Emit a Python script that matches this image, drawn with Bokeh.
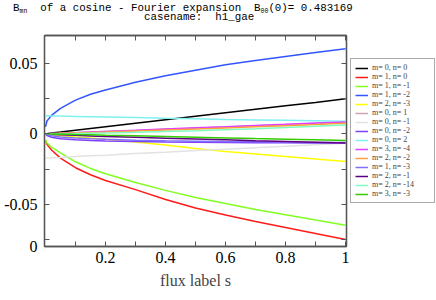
from bokeh.plotting import figure
from bokeh.layouts import row, column
from bokeh.models import (Legend, LegendItem, FixedTicker, LinearAxis, Div,
                          CustomJSTickFormatter, Range1d)
from bokeh.embed import file_html
from bokeh.resources import INLINE

# ---------------- data ----------------
s = [0, 0.005, 0.02, 0.05, 0.1, 0.15, 0.2, 0.3, 0.4, 0.5, 0.6, 0.7, 0.8, 0.9, 1.0]

labels = ["m= 0, n= 0", "m= 1, n= 0", "m= 1, n= -1", "m= 1, n= -2", "m= 2, n= -3",
          "m= 0, n= 1", "m= 0, n= -1", "m= 0, n= -2", "m= 0, n= 2", "m= 3, n= -4",
          "m= 2, n= -2", "m= 1, n= -3", "m= 2, n= -1", "m= 2, n= -14", "m= 3, n= -3"]

b_m0_n0 = [0, 0.0001, 0.0005, 0.0012, 0.0025, 0.0037, 0.0049, 0.0074, 0.0099, 0.0124, 0.0148, 0.0173, 0.0198, 0.0222, 0.0247]
b_m1_n0 = [-0.0045, -0.0075, -0.0115, -0.0172, -0.0240, -0.0290, -0.0330, -0.0395, -0.0465, -0.0525, -0.0575, -0.0620, -0.0663, -0.0705, -0.0747]
b_m1_nm1 = [-0.0045, -0.0065, -0.0095, -0.0135, -0.0198, -0.0245, -0.0283, -0.0345, -0.0400, -0.0450, -0.0493, -0.0535, -0.0572, -0.0610, -0.0646]
b_m1_nm2 = [0.0050, 0.0090, 0.0130, 0.0180, 0.0238, 0.0280, 0.0310, 0.0365, 0.0410, 0.0450, 0.0488, 0.0518, 0.0547, 0.0575, 0.0601]
b_m2_nm3 = [0, -0.0001, -0.0005, -0.0013, -0.0022, -0.0030, -0.0038, -0.0058, -0.0080, -0.0104, -0.0126, -0.0143, -0.0161, -0.0179, -0.0196]
b_m0_n1 = [0, 0, 0.0002, 0.0004, 0.0008, 0.0012, 0.0016, 0.0024, 0.0032, 0.0040, 0.0048, 0.0056, 0.0064, 0.0072, 0.0080]
b_m0_nm1 = [-0.0172, -0.0171, -0.0170, -0.0167, -0.0161, -0.0156, -0.0151, -0.0140, -0.0130, -0.0119, -0.0109, -0.0098, -0.0088, -0.0077, -0.0067]
b_m0_nm2 = [0, -0.0012, -0.0024, -0.0035, -0.0043, -0.0048, -0.0051, -0.0055, -0.0058, -0.0060, -0.0062, -0.0063, -0.0064, -0.0065, -0.0066]
b_m0_n2 = [0.0127, 0.0127, 0.0126, 0.0125, 0.0123, 0.0121, 0.0119, 0.0115, 0.0110, 0.0106, 0.0101, 0.0098, 0.0095, 0.0092, 0.0089]
b_m3_nm4 = [0, 0, 0.0002, 0.0004, 0.0008, 0.0013, 0.0017, 0.0025, 0.0034, 0.0042, 0.0050, 0.0059, 0.0067, 0.0076, 0.0084]
b_m2_nm2 = [0, 0, 0.0001, 0.0003, 0.0006, 0.0009, 0.0012, 0.0019, 0.0026, 0.0033, 0.0041, 0.0049, 0.0057, 0.0065, 0.0074]
b_m1_nm3 = [0, -0.0006, -0.0014, -0.0022, -0.0030, -0.0035, -0.0039, -0.0045, -0.0049, -0.0052, -0.0055, -0.0057, -0.0059, -0.0061, -0.0062]
b_m2_nm1 = [0, -0.0001, -0.0003, -0.0006, -0.0011, -0.0015, -0.0019, -0.0025, -0.0031, -0.0037, -0.0043, -0.0049, -0.0054, -0.0060, -0.0066]
b_m2_nm14 = [0, 0, 0, 0.0001, 0.0002, 0.0004, 0.0006, 0.0010, 0.0016, 0.0022, 0.0029, 0.0036, 0.0044, 0.0053, 0.0062]
b_m3_nm3 = [0, 0, -0.0001, -0.0002, -0.0005, -0.0007, -0.0010, -0.0014, -0.0019, -0.0024, -0.0029, -0.0034, -0.0038, -0.0043, -0.0048]

series = [b_m0_n0, b_m1_n0, b_m1_nm1, b_m1_nm2, b_m2_nm3, b_m0_n1, b_m0_nm1, b_m0_nm2,
          b_m0_n2, b_m3_nm4, b_m2_nm2, b_m1_nm3, b_m2_nm1, b_m2_nm14, b_m3_nm3]

colors = ["#000000", "#ff1a1a", "#80ff20", "#3355ff", "#ffff00", "#d0a0b4", "#e2e2e2", "#7f3fff",
          "#80f0f0", "#e040ff", "#ffa040", "#8070ff", "#600080", "#80ffc0", "#33cc00"]

x_range = (-0.0033, 1.0033)
y_range = (-0.0797, 0.0695)

x_ticks = [0.2, 0.4, 0.6, 0.8, 1.0]
x_minor = [0.1, 0.3, 0.5, 0.7, 0.9]
y_ticks = [y_range[0], -0.05, 0, 0.05]
y_tick_labels = ["0", "-0.05", "0", "0.05"]
y_minor = [-0.075, -0.025, 0.025]

title_html = ("B<sub>mn</sub>  of a cosine - Fourier expansion  B<sub>00</sub>(0)= 0.483169",
              "casename:  h1_gae")
x_label = "flux label s"

FONT = "Liberation Serif"
MONO = "Liberation Mono"
AX = "#555555"

# ---------------- header (two title lines) ----------------
sub_css = "font-size:6.5px;line-height:0;vertical-align:-2px"
line1 = title_html[0].replace("<sub>", '<sub style="%s">' % sub_css)
header = Div(
    text=('<div style="padding:3px 0 0 13px;height:10px;line-height:10px">%s</div>'
          '<div style="padding:2px 0 0 144px;height:10px;line-height:10px">%s</div>')
         % (line1, title_html[1]),
    width=436, height=28, margin=0,
    styles={"font-family": "'Liberation Mono', monospace", "font-size": "10.8px",
            "white-space": "pre", "color": "#000000", "overflow": "hidden"})

# ---------------- main figure ----------------
p = figure(frame_width=302, frame_height=211, output_backend="svg", toolbar_location=None,
           title=None, x_range=Range1d(*x_range), y_range=Range1d(*y_range),
           min_border_left=44, min_border_right=4, min_border_top=7, min_border_bottom=54)
p.xgrid.visible = False
p.ygrid.visible = False
p.outline_line_color = AX
p.outline_line_width = 1.3

x_fmt = CustomJSTickFormatter(code="return String(Math.round(tick*1000)/1000)")
y_fmt = CustomJSTickFormatter(args=dict(tv=y_ticks, tl=y_tick_labels), code="""
    for (let i = 0; i < tv.length; i++) {
        if (Math.abs(tv[i] - tick) < 1e-9) return tl[i];
    }
    return "";
""")

def style(ax, fmt, show_labels=True):
    ax.axis_line_color = AX
    ax.axis_line_width = 1.3
    ax.major_tick_line_color = AX
    ax.minor_tick_line_color = AX
    ax.major_tick_in = 5
    ax.major_tick_out = 0
    ax.minor_tick_in = 5
    ax.minor_tick_out = 0
    ax.major_label_text_font = FONT
    ax.major_label_text_font_size = "16px"
    ax.major_label_text_color = "#000000"
    ax.formatter = fmt
    if not show_labels:
        ax.major_label_text_font_size = "1px"
        ax.major_label_text_alpha = 0
        ax.major_label_standoff = 0

xax = p.xaxis[0]
xax.ticker = FixedTicker(ticks=x_ticks, minor_ticks=x_minor)
style(xax, x_fmt)
xax.major_label_standoff = 5
xax.axis_label = x_label
xax.axis_label_text_font = FONT
xax.axis_label_text_font_size = "16px"
xax.axis_label_text_font_style = "normal"
xax.axis_label_standoff = 6

yax = p.yaxis[0]
yax.ticker = FixedTicker(ticks=y_ticks, minor_ticks=y_minor)
style(yax, y_fmt)
yax.major_label_standoff = 7

rax = LinearAxis(ticker=FixedTicker(ticks=y_ticks[1:], minor_ticks=y_minor))
style(rax, x_fmt, False)
p.add_layout(rax, "right")
tax = LinearAxis(ticker=FixedTicker(ticks=x_ticks, minor_ticks=x_minor))
style(tax, x_fmt, False)
p.add_layout(tax, "above")

for ys, c in zip(series, colors):
    p.line(s, ys, line_color=c, line_width=1.5)

# ---------------- legend panel (separate figure beside the plot) ----------------
q = figure(width=86, height=272, output_backend="svg", toolbar_location=None,
           x_range=Range1d(10, 11), y_range=Range1d(10, 11),
           x_axis_location=None, y_axis_location=None,
           min_border_left=0, min_border_right=0, min_border_top=0, min_border_bottom=0)
q.xgrid.visible = False
q.ygrid.visible = False
q.outline_line_color = None

items = []
for lab, ys, c in zip(labels, series, colors):
    r = q.line(s, ys, line_color=c, line_width=1.5)
    items.append(LegendItem(label=lab, renderers=[r]))

legend = Legend(items=items, location=(0, 43))
legend.label_text_font = FONT
legend.label_text_font_size = "8px"
legend.label_height = 8
legend.glyph_height = 8
legend.glyph_width = 13
legend.label_standoff = 4
legend.spacing = 0
legend.padding = 4
legend.margin = 0
legend.label_width = 58
legend.border_line_color = AX
legend.border_line_width = 1.2
legend.background_fill_color = "white"
legend.background_fill_alpha = 1
q.add_layout(legend, "center")

layout = column(header, row(p, q, spacing=0), spacing=0)
open("out.html", "w").write(file_html(layout, INLINE))
